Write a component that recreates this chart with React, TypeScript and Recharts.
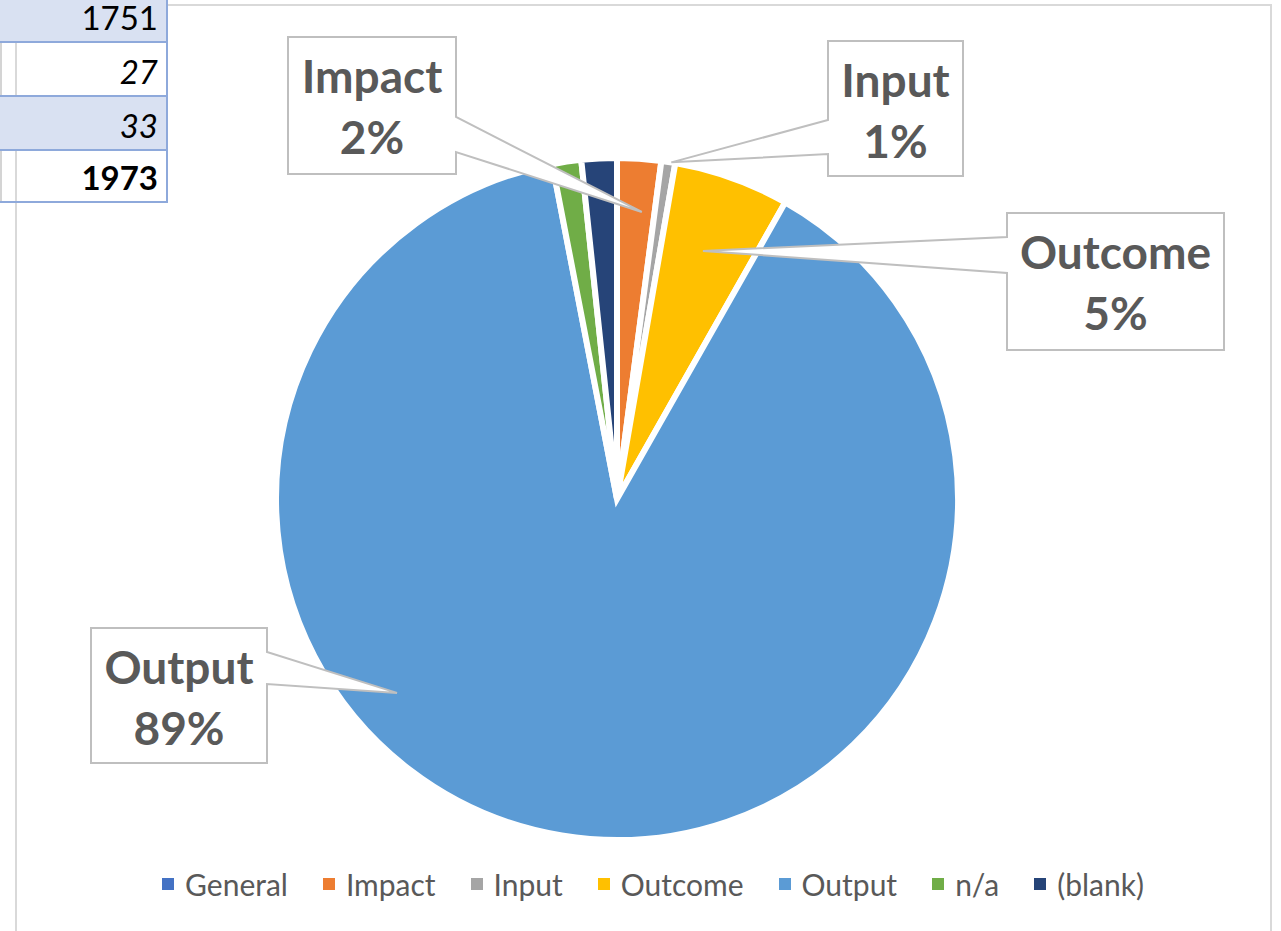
import { Legend, Pie, PieChart } from 'recharts'

const categories = ['General', 'Impact', 'Input', 'Outcome', 'Output', 'n/a', '(blank)']
const counts = [0, 41, 13, 108, 1751, 27, 33]
const colors = ['#4472C4', '#ED7D31', '#A5A5A5', '#FFC000', '#5B9BD5', '#70AD47', '#264478']

// pivot rows that show at the top-left corner of the sheet, then the grand total
const tableRows = ['Output', 'n/a', '(blank)']

const data = categories.map((name, i) => ({ name, value: counts[i], fill: colors[i] }))
const total = counts.reduce((a, b) => a + b, 0)

type Callout = {
  shift: number // deg, added to slice middle (clockwise)
  r: number // tip radius / outer radius
  box: [number, number, number, number] // x, y (from pie centre), w, h
  side: 'left' | 'right' // which box edge the pointer leaves from
  wedge: [number, number] // pointer base, from box top
}

const callouts: Record<string, Callout> = {
  Impact: { shift: 1.2, r: 0.845, box: [-329, -462, 168, 137], side: 'right', wedge: [80, 115] },
  Input: { shift: 0.5, r: 1.0, box: [211, -458, 135, 135], side: 'left', wedge: [79, 113] },
  Outcome: { shift: -0.6, r: 0.77, box: [390, -286, 217, 137], side: 'left', wedge: [24, 60] },
  Output: { shift: 39.3, r: 0.86, box: [-526, 129, 176, 135], side: 'right', wedge: [24, 56] },
}

const RAD = Math.PI / 180

function renderCallout(props: any) {
  const { cx, cy, midAngle, outerRadius, percent, name } = props
  const c = callouts[name]
  if (!c) return null
  const theta = (90 - midAngle + c.shift) * RAD
  const tx = cx + outerRadius * c.r * Math.sin(theta)
  const ty = cy - outerRadius * c.r * Math.cos(theta)
  const x0 = cx + c.box[0]
  const y0 = cy + c.box[1]
  const x1 = x0 + c.box[2]
  const y1 = y0 + c.box[3]
  const a = y0 + c.wedge[0]
  const b = y0 + c.wedge[1]
  const pts =
    c.side === 'right'
      ? [[x0, y0], [x1, y0], [x1, a], [tx, ty], [x1, b], [x1, y1], [x0, y1]]
      : [[x0, y0], [x1, y0], [x1, y1], [x0, y1], [x0, b], [tx, ty], [x0, a]]
  const mid = (x0 + x1) / 2
  return (
    <g>
      <polygon points={pts.map((p) => p.join(',')).join(' ')} fill="#fff" stroke="#BFBFBF" strokeWidth={2} />
      <text x={mid} y={y0 + 56} textAnchor="middle" fill="#595959" fontSize={46} fontWeight={700} fontFamily="Lato">
        {name}
      </text>
      <text x={mid} y={y0 + 117} textAnchor="middle" fill="#595959" fontSize={46} fontWeight={700} fontFamily="Lato">
        {Math.round(percent * 100)}%
      </text>
    </g>
  )
}

function renderLegend(props: any) {
  const items = [...(props.payload || [])].sort(
    (p: any, q: any) => categories.indexOf(p.value) - categories.indexOf(q.value),
  )
  return (
    <div
      style={{
        display: 'flex',
        justifyContent: 'center',
        gap: 35,
        paddingLeft: 25,
        fontFamily: 'Lato',
        fontSize: 30,
        color: '#595959',
      }}
    >
      {items.map((e: any) => (
        <span key={e.value} style={{ display: 'flex', alignItems: 'center' }}>
          <span style={{ width: 12, height: 12, background: e.color, marginRight: 11 }} />
          {e.value}
        </span>
      ))}
    </div>
  )
}

const cellRows = [
  { top: 0, height: 41, value: counts[categories.indexOf(tableRows[0])], bg: '#D9E1F2', style: 'normal', weight: 400 },
  { top: 43, height: 52, value: counts[categories.indexOf(tableRows[1])], bg: 'transparent', style: 'italic', weight: 400 },
  { top: 97, height: 52, value: counts[categories.indexOf(tableRows[2])], bg: '#D9E1F2', style: 'italic', weight: 400 },
  { top: 151, height: 50, value: total, bg: 'transparent', style: 'normal', weight: 700 },
]

export default function App() {
  return (
    <div style={{ position: 'fixed', left: 0, top: 0, width: 1281, height: 931, overflow: 'hidden', background: '#fff' }}>
      <div
        style={{
          position: 'absolute',
          left: 15,
          top: 4,
          width: 1257,
          height: 1000,
          boxSizing: 'border-box',
          border: '2px solid #D9D9D9',
        }}
      />
      <div style={{ position: 'absolute', left: 0, top: 0 }}>
        <PieChart width={1281} height={931} margin={{ top: 0, right: 0, bottom: 0, left: 0 }}>
          <Pie
            data={data}
            dataKey="value"
            nameKey="name"
            cx={617}
            cy={499}
            outerRadius={341}
            startAngle={90}
            endAngle={-270}
            stroke="#fff"
            strokeWidth={6}
            label={renderCallout}
            labelLine={false}
            isAnimationActive={false}
          />
          <Legend
            verticalAlign="bottom"
            content={renderLegend}
            wrapperStyle={{ top: 866, bottom: 'auto', left: 0, width: 1281 }}
          />
        </PieChart>
      </div>
      {cellRows.map((row, i) => (
        <div
          key={i}
          style={{
            position: 'absolute',
            left: 0,
            top: row.top,
            width: 168,
            height: row.height + 2,
            boxSizing: 'border-box',
            background: row.bg,
            borderRight: '2px solid #8EA9DB',
            borderBottom: '2px solid #8EA9DB',
            display: 'flex',
            justifyContent: 'flex-end',
            alignItems: 'flex-end',
            paddingRight: 8,
            paddingBottom: 7,
            fontFamily: 'Lato',
            fontSize: 33,
            lineHeight: 1,
            fontStyle: row.style,
            fontWeight: row.weight,
            color: '#000',
          }}
        >
          {row.bg === 'transparent' && (
            <span style={{ position: 'absolute', left: 0, top: 0, width: 2, height: '100%', background: '#D4D4D4' }} />
          )}
          <span>{row.value}</span>
        </div>
      ))}
    </div>
  )
}
